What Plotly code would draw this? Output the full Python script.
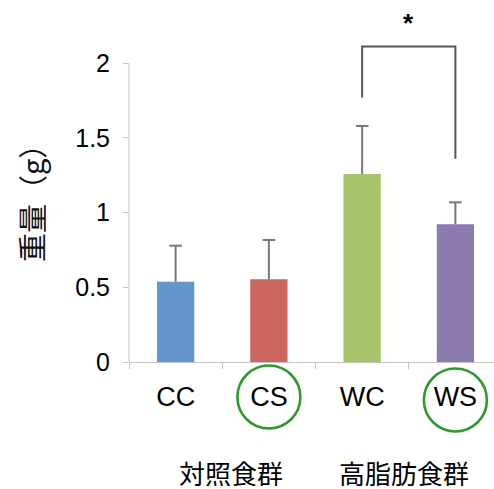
import plotly.graph_objects as go

# Group means and upper standard deviations (g)
categories = ["CC", "CS", "WC", "WS"]
means = [0.537, 0.553, 1.257, 0.921]
sd_upper = [0.241, 0.263, 0.322, 0.147]
bar_colors = ["#6495CC", "#CC6660", "#A8C46A", "#8C7BAE"]

y_ticks = [0, 0.5, 1, 1.5, 2]
y_tick_text = ["0", "0.5", "1", "1.5", "2"]

# Significance bracket between WC and WS
bracket_x = ["WC", "WC", "WS", "WS"]
bracket_y = [1.77, 2.11, 2.11, 1.36]
star_y = 2.27

group_labels = ["対照食群", "高脂肪食群"]
circled = ["CS", "WS"]

W, H = 494, 489
ML, MT, MB = 129, 0, 127
plot_w = W - ML
plot_h = H - MT - MB
Y_MAX = 2.4214
X_MAX = 3.414

LATIN = "Liberation Sans, Arial, Noto Sans CJK JP"
CJK = "Noto Sans CJK JP, Liberation Sans"
ERR_COLOR = "#777777"

fig = go.Figure()

# bars with an upward-only stem (no caps)
fig.add_trace(go.Bar(
    x=categories,
    y=means,
    marker=dict(color=bar_colors, line=dict(width=0)),
    error_y=dict(
        type="data", symmetric=False,
        array=sd_upper, arrayminus=[0] * len(sd_upper),
        color=ERR_COLOR, thickness=2, width=0,
    ),
    showlegend=False,
    hoverinfo="skip",
))

# cap at the top of each stem
fig.add_trace(go.Scatter(
    x=categories,
    y=[m + s for m, s in zip(means, sd_upper)],
    mode="markers",
    marker=dict(symbol="line-ew", size=9, line=dict(color=ERR_COLOR, width=2)),
    showlegend=False, hoverinfo="skip",
))

fig.add_trace(go.Scatter(
    x=bracket_x, y=bracket_y, mode="lines",
    line=dict(color="#555555", width=2),
    showlegend=False, hoverinfo="skip",
))

# y-axis line drawn only from 0 to the top tick
fig.add_shape(type="line", xref="paper", yref="y",
              x0=0, x1=0, y0=0, y1=y_ticks[-1],
              line=dict(color="#C4C4C4", width=1))

# green rings around the supplemented groups
ring_y = {"CS": (362 - 397) / plot_h, "WS": (362 - 400) / plot_h}
for c in circled:
    fig.add_shape(type="circle", xref="x", yref="paper",
                  xsizemode="pixel", ysizemode="pixel",
                  xanchor=c, yanchor=ring_y[c],
                  x0=-31.5, x1=31.5, y0=-31.5, y1=31.5,
                  line=dict(color="#2E9A2E", width=2.6))

fig.add_annotation(x=2.5, y=star_y, xref="x", yref="y", text="<b>*</b>",
                   showarrow=False, font=dict(family=LATIN, size=26, color="#000"))

group_x = [(230.7 - ML) / plot_w, (404 - ML) / plot_w]
for lbl, gx in zip(group_labels, group_x):
    fig.add_annotation(x=gx, y=(362 - 471.5) / plot_h, xref="paper", yref="paper",
                       xanchor="center", yanchor="middle", height=28,
                       text=lbl, showarrow=False,
                       font=dict(family=CJK, size=26, color="#000"))

fig.add_annotation(x=(31 - ML) / plot_w, y=(362 - 196) / plot_h,
                   xref="paper", yref="paper", xanchor="center", yanchor="middle",
                   text="重量（g）", textangle=-90,
                   showarrow=False, font=dict(family=CJK, size=29, color="#111"))

fig.update_layout(
    width=W, height=H,
    margin=dict(l=ML, r=0, t=MT, b=MB),
    paper_bgcolor="white", plot_bgcolor="white",
    bargap=0.6,
    xaxis=dict(
        type="category", range=[-0.5, X_MAX],
        showline=True, linecolor="#C4C4C4", linewidth=1,
        ticks="outside", tickson="boundaries", ticklen=6, tickcolor="#C4C4C4",
        showgrid=False, zeroline=False,
        tickfont=dict(family=LATIN, size=27, color="#000"),
        ticklabelstandoff=11,
    ),
    yaxis=dict(
        range=[0, Y_MAX], tickvals=y_ticks, ticktext=y_tick_text,
        showline=False, showgrid=False, zeroline=False,
        ticks="outside", ticklen=5, tickcolor="#C4C4C4",
        tickfont=dict(family=LATIN, size=25, color="#000"),
        ticklabelstandoff=8,
    ),
)

fig.write_html("out.html")
